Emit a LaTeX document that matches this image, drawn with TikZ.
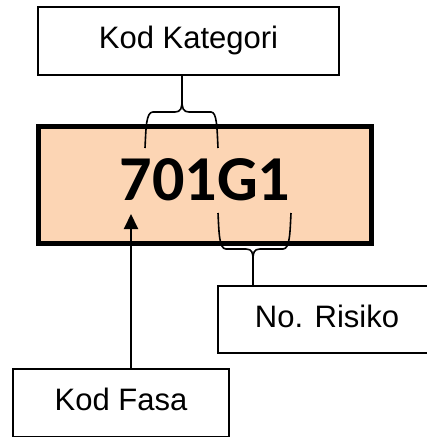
\documentclass[tikz,border=0pt]{standalone}
\usepackage{fontspec}
\setmainfont{Liberation Sans}
\newfontfamily\codefont{Carlito}
\usetikzlibrary{arrows.meta,calc}
\definecolor{peach}{RGB}{252,213,180}
\begin{document}
\begin{tikzpicture}[x=1pt,y=-1pt,
  labelbox/.style={draw=black,line width=2pt,fill=white,inner sep=0pt,
    font=\fontsize{31}{36}\selectfont,text height=22pt,text depth=7pt},
  codebox/.style={draw=black,line width=5pt,fill=peach,inner sep=0pt,
    font=\codefont\bfseries\fontsize{64}{70}\selectfont,text height=42pt,text depth=12pt},
  bracket/.style={draw=black,line width=1.6pt},
  pointer/.style={draw=black,line width=2pt,-{Triangle[length=15pt,width=14pt]}}]
\useasboundingbox (0,0) rectangle (427,437);
\clip (0,0) rectangle (427,437);
% main code box
\node[codebox,minimum width=333pt,minimum height=117pt] (code) at (205,185) {701G1};
% label boxes
\node[labelbox,minimum width=301pt,minimum height=68pt] (kat) at (188.5,41) {Kod Kategori};
\node[labelbox,minimum width=218pt,minimum height=67pt] (ris) at (327,319.5) {No. Risiko};
\node[labelbox,minimum width=216pt,minimum height=68pt] (fasa) at (121,403) {Kod Fasa};
% top brace
\coordinate (tl) at (145,148);
\coordinate (tr) at (218,148);
\coordinate (ts) at (182,100);
\draw[bracket] (tl) .. controls (146,128) and (146,112) .. (153,112) -- (175,112)
  .. controls (181,112) and (182,108) .. (ts) -- (ts |- kat.south);
\draw[bracket] (tr) .. controls (217,128) and (217,112) .. (211,112) -- (189,112)
  .. controls (183,112) and (182,108) .. (ts);
% bottom brace
\coordinate (bl) at (218,213);
\coordinate (br) at (291,213);
\coordinate (bs) at (253,259);
\draw[bracket] (bl) .. controls (219,232) and (219,249) .. (226,249) -- (246,249)
  .. controls (252,249) and (253,253) .. (bs) -- (bs |- ris.north);
\draw[bracket] (br) .. controls (290,232) and (290,249) .. (283,249) -- (260,249)
  .. controls (254,249) and (253,253) .. (bs);
% arrow
\coordinate (tip) at (131,214);
\draw[pointer] (fasa.north -| tip) -- (tip);
\end{tikzpicture}
\end{document}
